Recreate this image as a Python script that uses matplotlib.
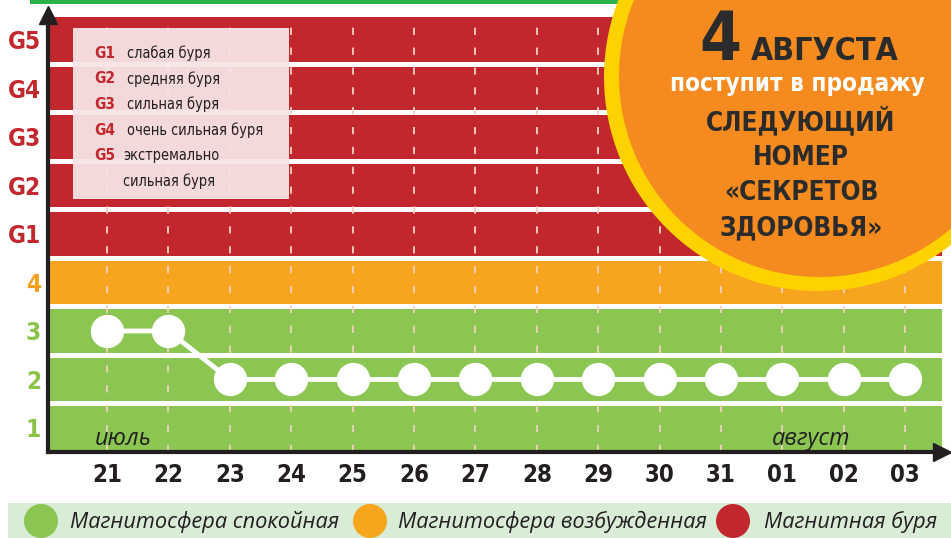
import matplotlib
matplotlib.use('Agg')
import matplotlib.pyplot as plt
from matplotlib import font_manager
from matplotlib.font_manager import FontProperties
from matplotlib.patches import Circle, Rectangle

# данные
days = ['21', '22', '23', '24', '25', '26', '27', '28', '29', '30', '31', '01', '02', '03']
kp_level = [3, 3, 2, 2, 2, 2, 2, 2, 2, 2, 2, 2, 2, 2]
level_labels = ['1', '2', '3', '4', 'G1', 'G2', 'G3', 'G4', 'G5']
storm_codes = ['G1', 'G2', 'G3', 'G4', 'G5']
storm_names = ['слабая буря', 'средняя буря', 'сильная буря', 'очень сильная буря', 'экстремально']
storm_tail = 'сильная буря'
legend_names = ['Магнитосфера спокойная', 'Магнитосфера возбужденная', 'Магнитная буря']
promo_lines = ['СЛЕДУЮЩИЙ', 'НОМЕР', '«СЕКРЕТОВ', 'ЗДОРОВЬЯ»']

RED = '#c1272d'
ORANGE = '#f7a51e'
GREEN = '#8bc653'
DARK = '#231f20'


def _w(f):
    w = f.weight
    if isinstance(w, str):
        w = font_manager.weight_dict.get(w, 400)
    return w


def cond_file(bold):
    # узкий шрифт: сначала обычный Condensed, потом Semi/Extra
    best, best_rank = None, 9
    for f in font_manager.fontManager.ttflist:
        nm = (f.name + ' ' + f.fname).lower()
        if 'italic' in nm or 'oblique' in nm:
            continue
        if not ('condensed' in nm or 'narrow' in nm):
            continue
        if bold and _w(f) != 700 or (not bold and _w(f) != 400):
            continue
        rank = 0
        if 'semi' in nm:
            rank = 1
        if 'extra' in nm or 'ultra' in nm:
            rank = 2
        if rank < best_rank:
            best, best_rank = f.fname, rank
    return best


def pick(*names):
    for n in names:
        try:
            font_manager.findfont(n, fallback_to_default=False)
            return n
        except Exception:
            continue
    return 'DejaVu Sans'


normal = pick('Open Sans', 'DejaVu Sans')
plt.rcParams['font.family'] = [normal, 'DejaVu Sans']
cb = cond_file(True)
cr = cond_file(False)


def fp_bold(size=12):
    if cb:
        return FontProperties(fname=cb, size=size)
    return FontProperties(family=normal, weight='bold', size=size)


def fp_reg(size=12):
    if cr:
        return FontProperties(fname=cr, size=size)
    return FontProperties(family=normal, size=size)


fig = plt.figure(figsize=(9.51, 5.38), dpi=100)
W, H = 951, 538


def fit(s, fp, width_px, **kw):
    # подбираем кегль под ширину надписи на картинке
    t = fig.text(0, 0, s, fontproperties=fp, **kw)
    w = t.get_window_extent(fig.canvas.get_renderer()).width
    t.remove()
    return fp.get_size() * width_px / w


ax = fig.add_axes([48 / W, 1 - 452 / H, (942 - 48) / W, (452 - 6) / H])

x = list(range(len(days)))
ax.set_xlim(-0.961, 13.6)
ax.set_ylim(0.505, 9.70)

# полосы уровней
gap = 0.05
for lev in range(1, 10):
    col = GREEN if lev <= 3 else (ORANGE if lev == 4 else RED)
    lo = 0.5 if lev == 1 else lev - 0.5 + gap
    hi = 9.47 if lev == 9 else lev + 0.5 - gap
    ax.axhspan(lo, hi, color=col, lw=0, zorder=0)

ax.vlines(x, 0.5, 9.47, colors='#f3d2c2', linestyles=(0, (4, 7)), lw=1.3, zorder=1)

ax.plot(x, kp_level, color='white', lw=3.5, zorder=3,
        marker='o', ms=23, mfc='white', mec='white')

sz_x = fit('21', fp_bold(20), 30)
sz_y = fit('G5', fp_bold(20), 33)
ax.set_xticks(x)
ax.set_xticklabels(days, color=DARK)
for lab in ax.get_xticklabels():
    lab.set_fontproperties(fp_bold(sz_x))
ax.set_yticks(range(1, 10))
ax.set_yticklabels(level_labels)
for lab, lev in zip(ax.get_yticklabels(), range(1, 10)):
    lab.set_fontproperties(fp_bold(sz_y))
    lab.set_color('#8bc34a' if lev <= 3 else ('#f6a01c' if lev == 4 else RED))
ax.tick_params(length=0, axis='x', pad=8)
ax.tick_params(length=0, axis='y', pad=5)

for s in ['top', 'right']:
    ax.spines[s].set_visible(False)
for s in ['left', 'bottom']:
    ax.spines[s].set_linewidth(3)
    ax.spines[s].set_color(DARK)
ax.spines['left'].set_bounds(0.505, 9.55)
ax.plot(0, 1 - 9 / 446, marker='^', ms=13, color=DARK, transform=ax.transAxes, clip_on=False, zorder=6)
ax.plot(1, 0, marker='>', ms=13, color=DARK, transform=ax.transAxes, clip_on=False, zorder=6)

sz_m = fit('июль', FontProperties(family=normal, style='italic', size=17), 57)
ax.text(0.27, 0.77, 'июль', fontsize=sz_m, style='italic', color=DARK, ha='center', va='center', zorder=4)
ax.text(11.47, 0.77, 'август', fontsize=sz_m, style='italic', color=DARK, ha='center', va='center', zorder=4)

# накладка в пикселях
ov = fig.add_axes([0, 0, 1, 1], zorder=5)
ov.set_xlim(0, W)
ov.set_ylim(H, 0)
ov.axis('off')

ov.add_patch(Rectangle((30, 0), W - 30, 3.5, color='#2bb24c', lw=0))

# легенда бурь
ov.add_patch(Rectangle((73, 28), 216, 171, color='#f7e4e6', lw=0, alpha=0.95))
sz_g = fit('G1', fp_bold(14), 21)
sz_n = fit('слабая буря', fp_reg(14), 84)
for i, (code, name) in enumerate(zip(storm_codes, storm_names)):
    yy = 53 + i * 25.7
    ov.text(94, yy, code, color=RED, fontproperties=fp_bold(sz_g), va='center')
    ov.text(127 if i < 4 else 123, yy, name, color=DARK, fontproperties=fp_reg(sz_n), va='center')
ov.text(123, 53 + 5 * 25.7, storm_tail, color=DARK, fontproperties=fp_reg(sz_n), va='center')

# круг с анонсом
ov.add_patch(Circle((818, 77), 214, color='#fed200', lw=0))
ov.add_patch(Circle((820, 76), 201, color='#f58b1f', lw=0))
ov.text(741, 60, '4', fontproperties=fp_bold(fit('4', fp_bold(40), 42)), color='#2b2b2b',
        ha='right', va='baseline')
ov.text(751, 60, 'АВГУСТА', fontproperties=fp_bold(fit('АВГУСТА', fp_bold(28), 148)), color='#2b2b2b',
        ha='left', va='baseline')
ov.text(797, 91, 'поступит в продажу', fontproperties=fp_bold(fit('поступит в продажу', fp_bold(20), 255)),
        color='white', ha='center', va='baseline')
sz_p = fit(promo_lines[0], fp_bold(24), 190)
for i, line in enumerate(promo_lines):
    ov.text(801, 130 + i * 35, line, fontproperties=fp_bold(sz_p), color='#2b2b2b',
            ha='center', va='baseline')

# нижняя легенда
ov.add_patch(Rectangle((8, 503), W - 8, H - 503, color='#d8ecd6', lw=0))
sz_l = fit(legend_names[0], FontProperties(family=normal, style='italic', size=16), 270)
for cx, col, tx, name in zip([41, 370, 733], [GREEN, '#f6a51d', RED], [70, 398, 764], legend_names):
    ov.add_patch(Circle((cx, 521), 17, color=col, lw=0))
    ov.text(tx, 522, name, fontsize=sz_l, style='italic', color=DARK, va='center')

fig.savefig('out.png', dpi=100)
